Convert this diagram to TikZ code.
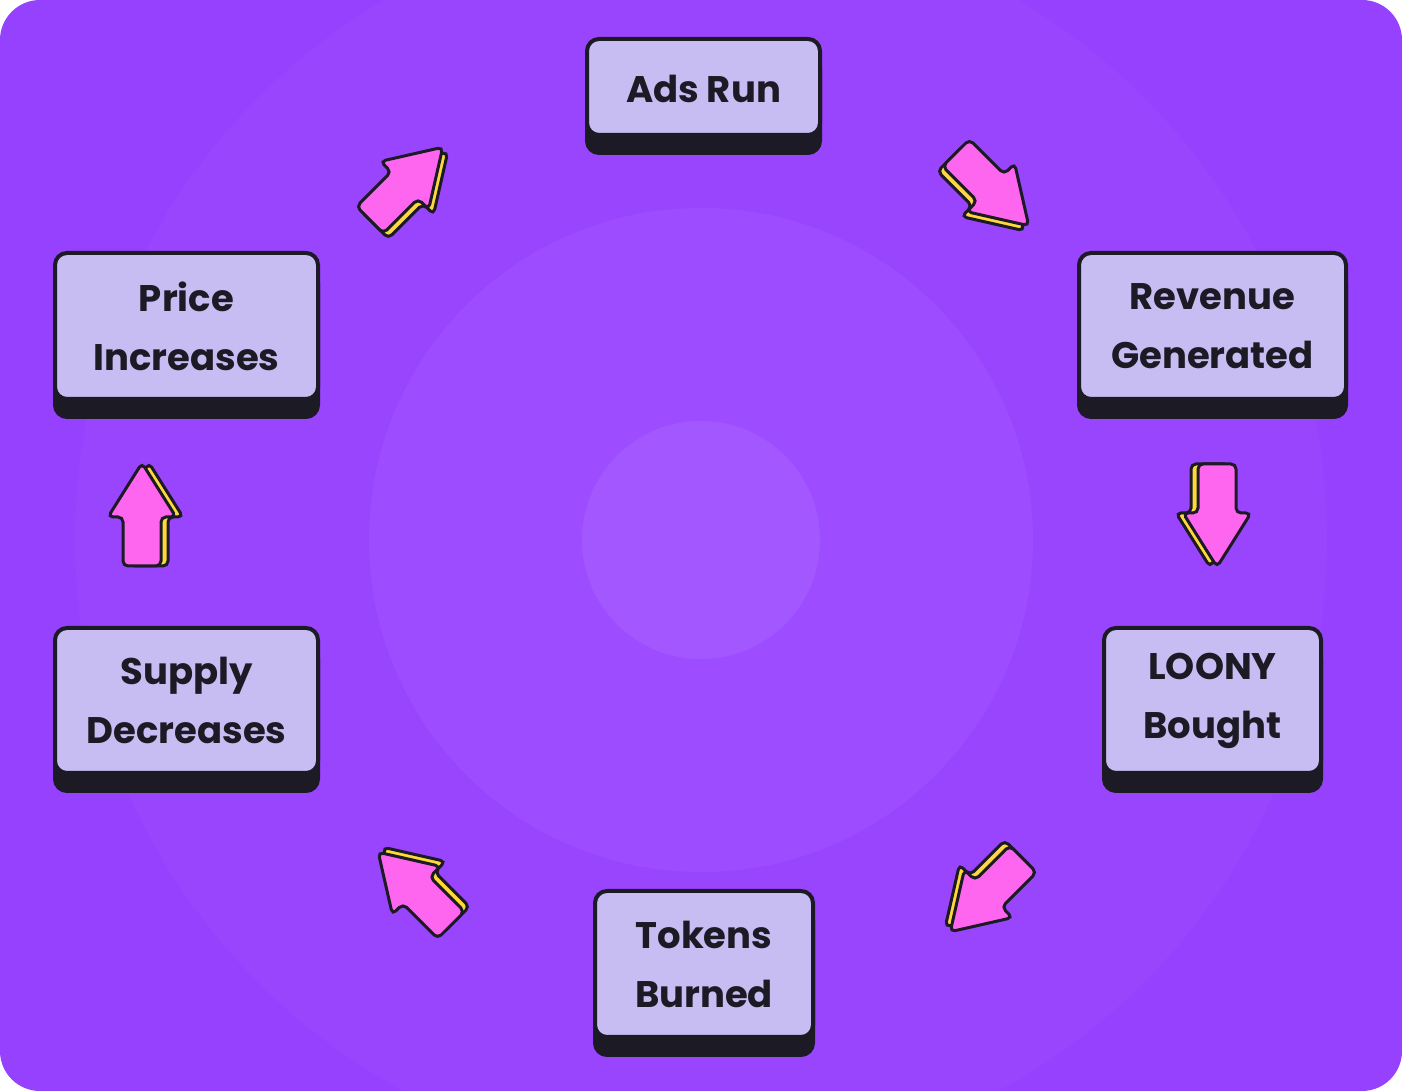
\documentclass[tikz,border=0pt]{standalone}
\usepackage{fontspec}
\setmainfont{Poppins}
\usetikzlibrary{shadows}
\definecolor{bgpurple}{HTML}{9641FE}
\definecolor{ringA}{HTML}{9945FE}
\definecolor{ringB}{HTML}{9D4DFF}
\definecolor{ringC}{HTML}{A257FF}
\definecolor{face}{HTML}{C8BDF2}
\definecolor{ink}{HTML}{1C1A24}
\definecolor{pnk}{HTML}{FF66F0}
\definecolor{yel}{HTML}{FFD93B}
\tikzset{
  box/.style={draw=ink, line width=4pt, fill=face, rounded corners=12pt,
    align=center, font=\fontsize{37}{59}\selectfont\bfseries, text=ink, inner sep=0pt,
    general shadow={fill=ink, draw=ink, line width=4pt, shadow yshift=-18pt}},
  arrowbody/.style={draw=ink, line width=3pt, rounded corners=5pt},
  pics/fatarrow/.style={code={
    \path[arrowbody, fill=yel, shift={(7,0)}] (-19,-51) -- (19,-51) -- (19,-2) -- (34,-2) -- (0,52) -- (-34,-2) -- (-19,-2) -- cycle;
    \path[arrowbody, fill=pnk] (-19,-51) -- (19,-51) -- (19,-2) -- (34,-2) -- (0,52) -- (-34,-2) -- (-19,-2) -- cycle;
  }}
}
\begin{document}
\begin{tikzpicture}[x=1pt,y=1pt]
\useasboundingbox (0,0) rectangle (1402,1091);
\begin{scope}
  \clip[rounded corners=40pt] (0,0) rectangle (1402,1091);
  \fill[bgpurple] (0,0) rectangle (1402,1091);
  \fill[ringA] (701,551) circle (626);
  \fill[ringB] (701,551) circle (332);
  \fill[ringC] (701,551) circle (119);
\end{scope}
% boxes
\node[box, minimum width=233pt, minimum height=96pt, text depth=0pt] (ads) at (703.5,1004) {\raisebox{-3pt}{Ads Run}};
\node[box, minimum width=267pt, minimum height=146pt] (rev) at (1212.5,765) {Revenue\\Generated};
\node[box, minimum width=217pt, minimum height=145pt] (loony) at (1212.5,390.5) {LOONY\\Bought};
\node[box, minimum width=218pt, minimum height=146pt] (tok) at (704,127) {Tokens\\Burned};
\node[box, minimum width=263pt, minimum height=145pt] (sup) at (186.5,390.5) {Supply\\Decreases};
\node[box, minimum width=263pt, minimum height=146pt] (price) at (186.5,765) {Price\\Increases};
% arrows
\pic[rotate=-45] at (406,907) {fatarrow};
\pic[rotate=-135] at (992,902) {fatarrow};
\pic[rotate=180] at (1217,576) {fatarrow};
\pic[rotate=135] at (987,196) {fatarrow};
\pic[rotate=45] at (415,202) {fatarrow};
\pic[rotate=0] at (142,576) {fatarrow};
\end{tikzpicture}
\end{document}
